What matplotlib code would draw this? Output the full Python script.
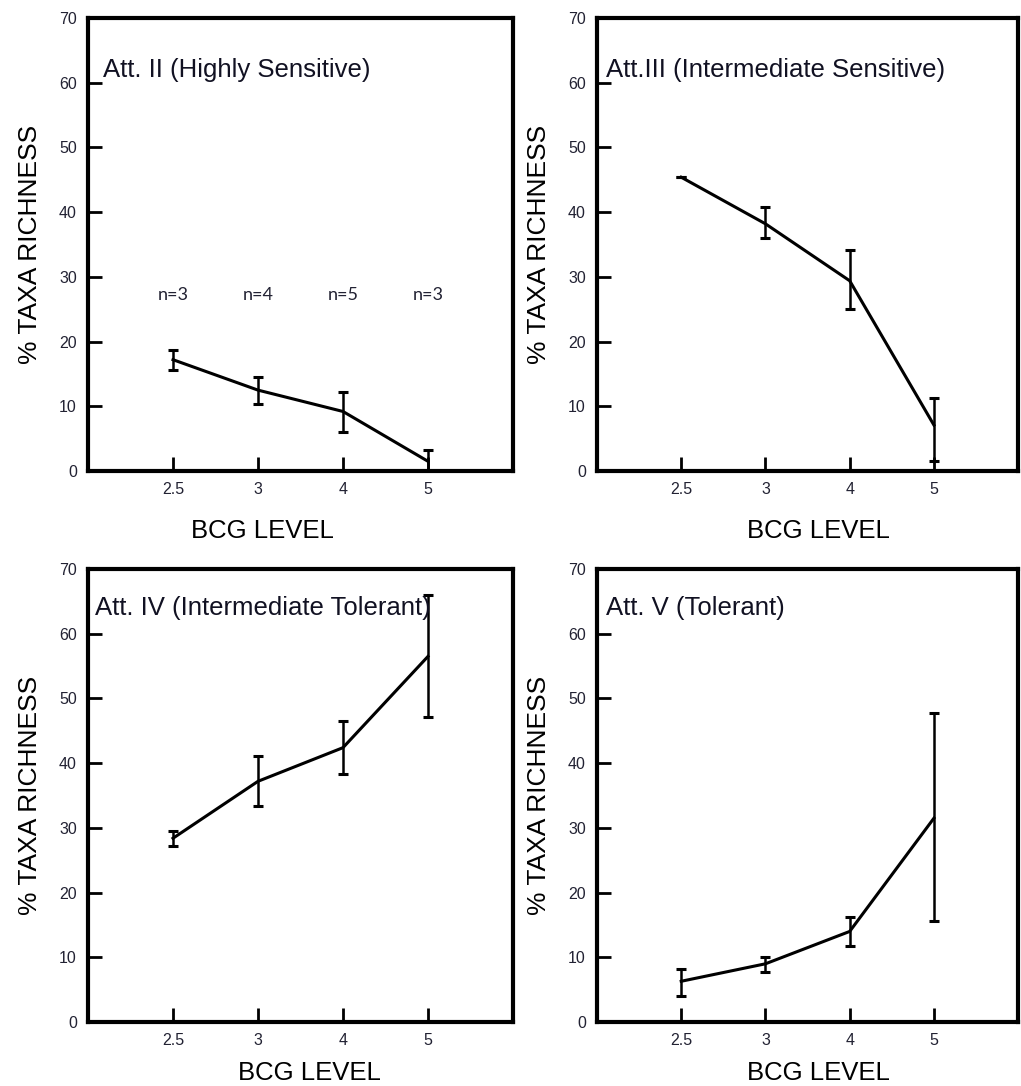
import numpy as np
import matplotlib
matplotlib.use("Agg")
import matplotlib.pyplot as plt

plt.rcParams['font.family'] = ['Liberation Sans', 'DejaVu Sans']

# BCG levels (categorical x positions)
bcg_levels = ["2.5", "3", "4", "5"]

# panel titles
titles = ["Att. II (Highly Sensitive)", "Att.III (Intermediate Sensitive)",
          "Att. IV (Intermediate Tolerant)", "Att. V (Tolerant)"]

# mean % taxa richness per panel
means_II = [17.2, 12.5, 9.2, 1.5]
means_III = [45.4, 38.2, 29.4, 7.1]
means_IV = [28.4, 37.2, 42.4, 56.5]
means_V = [6.3, 9.0, 14.0, 31.5]

# error bar lower / upper ends
low_II = [15.6, 10.3, 6.1, 0.0]
high_II = [18.7, 14.6, 12.2, 3.3]
low_III = [45.4, 36.0, 25.0, 1.5]
high_III = [45.4, 40.8, 34.1, 11.3]
low_IV = [27.2, 33.4, 38.4, 47.2]
high_IV = [29.5, 41.1, 46.5, 66.0]
low_V = [4.1, 7.8, 11.7, 15.6]
high_V = [8.2, 10.1, 16.2, 47.8]

# sample sizes (shown in first panel)
n_labels = ["n=3", "n=4", "n=5", "n=3"]

all_means = [means_II, means_III, means_IV, means_V]
all_low = [low_II, low_III, low_IV, low_V]
all_high = [high_II, high_III, high_IV, high_V]

# axes positions [left, bottom, width, height] in figure fractions
positions = [
    [0.0862, 0.5663, 0.4162, 0.4171],
    [0.5847, 0.5663, 0.4125, 0.4171],
    [0.0862, 0.0589, 0.4162, 0.4171],
    [0.5847, 0.0589, 0.4125, 0.4171],
]
# title anchor (axes fraction) and x-label placement for each panel
title_xy = [(0.036, 0.885), (0.022, 0.885), (0.017, 0.913), (0.022, 0.913)]
xlabel_xy = [(0.41, -0.105), (0.525, -0.105), (0.52, -0.085), (0.525, -0.085)]

fig = plt.figure(figsize=(10.21, 10.86), dpi=100)

for k in range(4):
    ax = fig.add_axes(positions[k])
    x = np.arange(1, len(bcg_levels) + 1)
    m = np.array(all_means[k])
    lo = m - np.array(all_low[k])
    hi = np.array(all_high[k]) - m
    ax.errorbar(x, m, yerr=[lo, hi], color='black', lw=2.2, elinewidth=1.8,
                capsize=3.5, capthick=2.2)
    ax.set_xlim(0, 5)
    ax.set_ylim(0, 70)
    ax.set_yticks(np.arange(0, 71, 10))
    ax.set_xticks(x)
    ax.set_xticklabels(bcg_levels)
    ax.tick_params(direction='in', length=10, width=2, labelsize=11.5,
                   labelcolor='#222233', pad=8)
    for s in ax.spines.values():
        s.set_linewidth(3)
    ax.set_xlabel("BCG LEVEL", fontsize=18.5)
    ax.xaxis.set_label_coords(*xlabel_xy[k])
    ax.set_ylabel("% TAXA RICHNESS", fontsize=19, labelpad=12)
    ax.text(title_xy[k][0], title_xy[k][1], titles[k], transform=ax.transAxes,
            fontsize=18.5, ha='left', va='center', color='#111122')
    if k == 0:
        for xi, lab in zip(x, n_labels):
            ax.text(xi, 27.2, lab, ha='center', va='center', fontsize=13,
                    family=['Lato', 'DejaVu Sans'], color='#222233')

fig.savefig("out.png", dpi=100)
